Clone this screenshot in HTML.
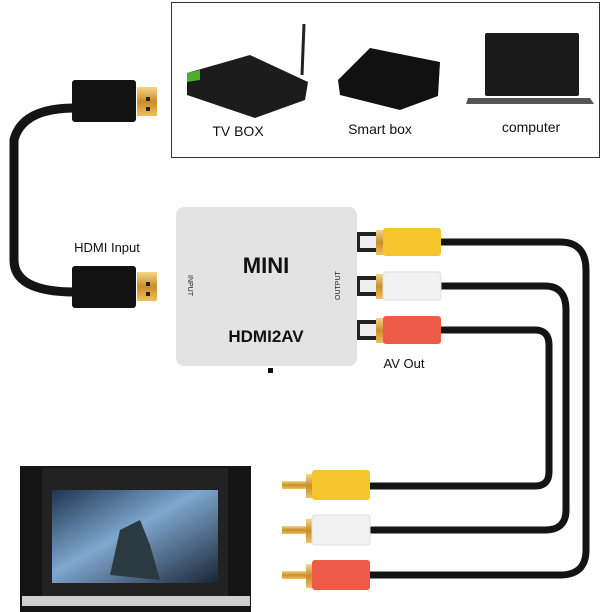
<!DOCTYPE html>
<html><head><style>
html,body{margin:0;padding:0;background:#fff;}
svg{display:block}
text{font-family:"Liberation Sans",Arial,sans-serif;}
</style></head><body>
<svg width="604" height="612" viewBox="0 0 604 612" xmlns="http://www.w3.org/2000/svg">
<defs>
<linearGradient id="scr" x1="0" y1="0" x2="1" y2="1">
<stop offset="0" stop-color="#1d3550"/><stop offset="0.45" stop-color="#7fa7cf"/><stop offset="1" stop-color="#1a2536"/>
</linearGradient>
<linearGradient id="gold" x1="0" y1="0" x2="0" y2="1">
<stop offset="0" stop-color="#f6d58a"/><stop offset="0.5" stop-color="#c88d28"/><stop offset="1" stop-color="#f0c060"/>
</linearGradient>
</defs>
<!-- top box -->
<rect x="171.5" y="2.5" width="428" height="155" fill="#fff" stroke="#333" stroke-width="1"/>
<!-- tv box -->
<line x1="304" y1="24" x2="302" y2="75" stroke="#222" stroke-width="3"/>
<polygon points="187,73 250,55 308,82 305,100 255,118 187,95" fill="#1c1c1c"/>
<polygon points="187,73 200,70 200,80 187,82" fill="#4cae2a"/>
<text x="238" y="136" font-size="14" text-anchor="middle" fill="#111">TV BOX</text>
<!-- smart box -->
<polygon points="338,80 370,48 440,62 438,96 400,110 340,95" fill="#111"/>
<text x="380" y="134" font-size="14" text-anchor="middle" fill="#111">Smart box</text>
<!-- laptop -->
<rect x="485" y="33" width="94" height="63" rx="2" fill="#1a1a1a"/>
<polygon points="468,98 590,98 594,104 466,104" fill="#555"/>
<text x="531" y="132" font-size="14" text-anchor="middle" fill="#111">computer</text>
<!-- HDMI cable -->
<path d="M75 108 Q22 108 14 140 L14 260 Q14 292 75 292" fill="none" stroke="#141414" stroke-width="9"/>
<rect x="72" y="80" width="64" height="42" rx="3" fill="#121212"/>
<rect x="137" y="87" width="20" height="29" fill="url(#gold)"/>
<rect x="146" y="97" width="4" height="4" fill="#222"/><rect x="146" y="107" width="4" height="4" fill="#222"/>
<rect x="72" y="266" width="64" height="42" rx="3" fill="#121212"/>
<rect x="137" y="272" width="20" height="29" fill="url(#gold)"/>
<rect x="146" y="282" width="4" height="4" fill="#222"/><rect x="146" y="292" width="4" height="4" fill="#222"/>
<text x="107" y="252" font-size="13" text-anchor="middle" fill="#111">HDMI Input</text>
<!-- converter -->
<rect x="176" y="207" width="181" height="159" rx="8" fill="#e3e3e3"/>
<text x="266" y="273" font-size="22" font-weight="bold" text-anchor="middle" fill="#111">MINI</text>
<text x="266" y="342" font-size="17" font-weight="bold" text-anchor="middle" fill="#111">HDMI2AV</text>
<text x="0" y="0" font-size="7" fill="#222" transform="translate(188,275) rotate(90)">INPUT</text>
<text x="0" y="0" font-size="7" fill="#222" transform="translate(340,300) rotate(-90)">OUTPUT</text>
<rect x="268" y="368" width="5" height="5" fill="#111"/>
<!-- AV cables -->
<g fill="none" stroke="#141414" stroke-width="7">
<path d="M440 242 L560 242 Q586 242 586 270 L586 550 Q586 575 560 575 L370 575"/>
<path d="M440 286 L545 286 Q566 286 566 310 L566 510 Q566 530 545 530 L370 530"/>
<path d="M440 330 L535 330 Q549 330 549 345 L549 472 Q549 486 535 486 L370 486"/>
</g>
<!-- top plugs -->
<g>
<rect x="357" y="232" width="20" height="20" fill="#222"/><rect x="360" y="236" width="17" height="12" fill="#eee"/>
<rect x="376" y="230" width="8" height="25" fill="url(#gold)"/>
<rect x="383" y="228" width="58" height="28" rx="3" fill="#f5c52e"/>
<rect x="357" y="276" width="20" height="20" fill="#222"/><rect x="360" y="280" width="17" height="12" fill="#eee"/>
<rect x="376" y="274" width="8" height="25" fill="url(#gold)"/>
<rect x="383" y="272" width="58" height="28" rx="3" fill="#f2f2f2" stroke="#ddd"/>
<rect x="357" y="320" width="20" height="20" fill="#222"/><rect x="360" y="324" width="17" height="12" fill="#eee"/>
<rect x="376" y="318" width="8" height="25" fill="url(#gold)"/>
<rect x="383" y="316" width="58" height="28" rx="3" fill="#ee5a48"/>
</g>
<text x="404" y="368" font-size="13" text-anchor="middle" fill="#111">AV Out</text>
<!-- bottom plugs -->
<g>
<rect x="282" y="481" width="28" height="8" fill="url(#gold)"/><rect x="306" y="474" width="8" height="24" fill="url(#gold)"/>
<rect x="312" y="470" width="58" height="30" rx="3" fill="#f5c52e"/>
<rect x="282" y="526" width="28" height="8" fill="url(#gold)"/><rect x="306" y="519" width="8" height="24" fill="url(#gold)"/>
<rect x="312" y="515" width="58" height="30" rx="3" fill="#f2f2f2" stroke="#ddd"/>
<rect x="282" y="571" width="28" height="8" fill="url(#gold)"/><rect x="306" y="564" width="8" height="24" fill="url(#gold)"/>
<rect x="312" y="560" width="58" height="30" rx="3" fill="#ee5a48"/>
</g>
<!-- TV -->
<rect x="20" y="466" width="231" height="146" fill="#141414"/>
<rect x="42" y="468" width="186" height="128" fill="#222"/>
<rect x="52" y="490" width="166" height="93" fill="url(#scr)"/>
<path d="M110 575 L120 530 L140 520 L150 545 L160 580 Z" fill="#2a3a40"/>
<rect x="22" y="596" width="228" height="10" fill="#cfcfcf"/>
</svg>
</body></html>
